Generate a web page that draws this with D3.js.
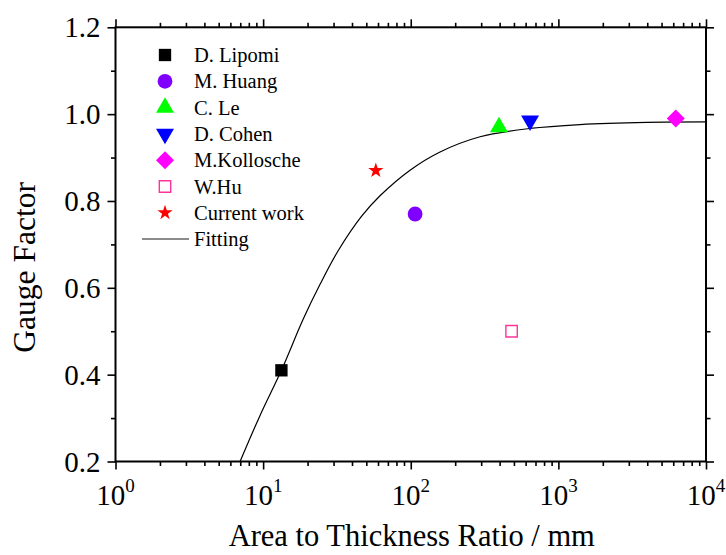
<!DOCTYPE html>
<html>
<head>
<meta charset="utf-8">
<script src="https://cdn.jsdelivr.net/npm/d3@7"></script>
<style>
  html, body { margin: 0; padding: 0; background: #fff; }
  svg { display: block; }
  text { font-family: "Liberation Serif", "Times New Roman", serif; fill: #000; }
</style>
</head>
<body>
<svg id="chart" width="726" height="555"></svg>
<script>
// Published results: area-to-thickness ratio (mm) vs. gauge factor
const authors = ["D. Lipomi", "M. Huang", "C. Le", "D. Cohen", "M.Kollosche", "W.Hu", "Current work"];
const ratios  = [13.3, 107, 396, 643, 6240, 482, 58];
const gauge   = [0.41, 0.77, 0.97, 0.985, 0.99, 0.50, 0.87];

// Fitted curve, sampled along its length
const fitRatio = [6.98, 9.5, 13.3, 18.7, 24.3, 32.3, 46.5, 61.9, 98.9, 158, 295, 643, 1400, 3970, 10000];
const fitGauge = [0.2, 0.305, 0.41, 0.528, 0.608, 0.686, 0.765, 0.812, 0.871, 0.913, 0.948, 0.967, 0.976, 0.981, 0.982];

// Axis ticks
const xMajor = [1, 10, 100, 1000, 10000];
const xExponents = ["0", "1", "2", "3", "4"];
const xMinor = [1, 10, 100, 1000].flatMap(d => [2, 3, 4, 5, 6, 7, 8, 9].map(k => k * d));
const yMajor = [0.2, 0.4, 0.6, 0.8, 1.0, 1.2];
const yMinor = [0.3, 0.5, 0.7, 0.9, 1.1];

const svg = d3.select("#chart");
const plotL = 115.5, plotR = 706, plotT = 27.3, plotB = 461.5;

const x = d3.scaleLog().domain([1, 10000]).range([plotL, plotR]);
const y = d3.scaleLinear().domain([0.2, 1.2]).range([plotB, plotT]);

const MAJOR = 8, MINOR = 4.5;

function styleAxis(g) {
  g.select(".domain").remove();
  g.selectAll("line").attr("stroke", "#000").attr("stroke-width", 1.6);
  g.selectAll("text").remove();
}

// major + minor ticks on all four sides, pointing outward
[[xMajor, MAJOR], [xMinor, MINOR]].forEach(([vals, len]) => {
  svg.append("g").attr("transform", `translate(0,${plotB})`)
    .call(d3.axisBottom(x).tickValues(vals).tickSize(len).tickSizeOuter(0)).call(styleAxis);
  svg.append("g").attr("transform", `translate(0,${plotT})`)
    .call(d3.axisTop(x).tickValues(vals).tickSize(len).tickSizeOuter(0)).call(styleAxis);
});
[[yMajor, MAJOR], [yMinor, MINOR]].forEach(([vals, len]) => {
  svg.append("g").attr("transform", `translate(${plotL},0)`)
    .call(d3.axisLeft(y).tickValues(vals).tickSize(len).tickSizeOuter(0)).call(styleAxis);
  svg.append("g").attr("transform", `translate(${plotR},0)`)
    .call(d3.axisRight(y).tickValues(vals).tickSize(len).tickSizeOuter(0)).call(styleAxis);
});

// frame
svg.append("rect")
  .attr("x", plotL).attr("y", plotT)
  .attr("width", plotR - plotL).attr("height", plotB - plotT)
  .attr("fill", "none").attr("stroke", "#000").attr("stroke-width", 2);

// y tick labels
svg.append("g").selectAll("text").data(yMajor).join("text")
  .attr("x", plotL - 15).attr("y", d => y(d))
  .attr("dy", "0.35em")
  .attr("text-anchor", "end")
  .attr("font-size", 29)
  .text(d => d.toFixed(1));

// x tick labels as powers of ten
const xl = svg.append("g").selectAll("text").data(xMajor).join("text")
  .attr("x", d => x(d)).attr("y", 505)
  .attr("text-anchor", "middle")
  .attr("font-size", 29);
xl.append("tspan").text("10");
xl.append("tspan").attr("dy", -13).attr("font-size", 19).text((d, i) => xExponents[i]);

// axis titles
svg.append("text")
  .attr("x", (plotL + plotR) / 2 + 1).attr("y", 546)
  .attr("text-anchor", "middle").attr("font-size", 30.5)
  .text("Area to Thickness Ratio / mm");
svg.append("text")
  .attr("transform", `translate(35,${(plotT + plotB) / 2 + 23}) rotate(-90)`)
  .attr("text-anchor", "middle").attr("font-size", 31.5)
  .text("Gauge Factor");

// clip for the curve
svg.append("clipPath").attr("id", "plotClip")
  .append("rect").attr("x", plotL).attr("y", plotT)
  .attr("width", plotR - plotL).attr("height", plotB - plotT);

const fitPts = fitRatio.map((r, i) => [x(r), y(fitGauge[i])]);
svg.append("path")
  .attr("clip-path", "url(#plotClip)")
  .attr("d", d3.line().curve(d3.curveCatmullRom.alpha(0.5))(fitPts))
  .attr("fill", "none").attr("stroke", "#000").attr("stroke-width", 1.2);

// marker styles for each source
const markers = [
  { type: d3.symbolSquare,   size: 152, fill: "#000000", stroke: "none",    rot: 0 },
  { type: d3.symbolCircle,   size: 172, fill: "#8000ff", stroke: "none",    rot: 0 },
  { type: d3.symbolTriangle, size: 140, fill: "#00ff00", stroke: "none",    rot: 0 },
  { type: d3.symbolTriangle, size: 140, fill: "#0000ff", stroke: "none",    rot: 180 },
  { type: d3.symbolSquare,   size: 162, fill: "#ff00ff", stroke: "none",    rot: 45 },
  { type: d3.symbolSquare,   size: 130, fill: "none",    stroke: "#ff3399", rot: 0 },
  { type: d3.symbolStar,     size: 72,  fill: "#ff0000", stroke: "none",    rot: 0 }
];

function marker(m, tx, ty) {
  svg.append("path")
    .attr("transform", `translate(${tx},${ty}) rotate(${m.rot})`)
    .attr("d", d3.symbol().type(m.type).size(m.size)())
    .attr("fill", m.fill)
    .attr("stroke", m.stroke)
    .attr("stroke-width", m.stroke === "none" ? 0 : 1.4);
}

// data points
authors.forEach((a, i) => marker(markers[i], x(ratios[i]), y(gauge[i])));

// legend
const legX = 165, legY0 = 55, legDy = 26.3;
authors.forEach((a, i) => {
  const yy = legY0 + i * legDy;
  marker(markers[i], legX, yy);
  svg.append("text")
    .attr("x", 194).attr("y", yy).attr("dy", "0.35em")
    .attr("font-size", 20.5)
    .text(a);
});
const fitY = legY0 + authors.length * legDy;
svg.append("line")
  .attr("x1", 142).attr("x2", 189).attr("y1", fitY).attr("y2", fitY)
  .attr("stroke", "#666").attr("stroke-width", 1.5);
svg.append("text")
  .attr("x", 194).attr("y", fitY).attr("dy", "0.35em")
  .attr("font-size", 20.5)
  .text("Fitting");
</script>
</body>
</html>
